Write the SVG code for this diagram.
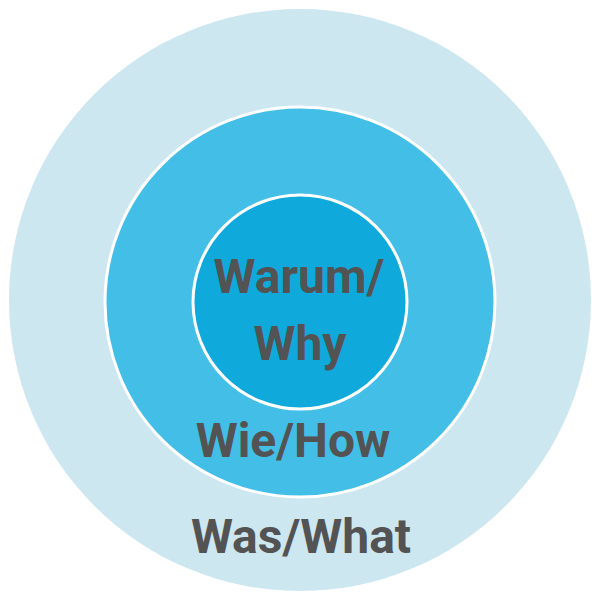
<svg xmlns="http://www.w3.org/2000/svg" width="600" height="600" viewBox="0 0 600 600">
<style>
.lbl{font-family:Roboto,"Liberation Sans",sans-serif;font-weight:bold;font-size:48px;fill:#535353;text-anchor:middle}
.ring{stroke:#ffffff;stroke-width:3}
</style>
<rect width="600" height="600" fill="#ffffff"/>
<g id="outer">
<circle cx="300" cy="300" r="291" fill="#cde7f1"/>
<text class="lbl" x="301" y="553">Was/What</text>
</g>
<g id="middle">
<circle class="ring" cx="300" cy="302" r="195" fill="#43bee7"/>
<text class="lbl" x="293" y="457">Wie/How</text>
</g>
<g id="inner">
<circle class="ring" cx="300" cy="302" r="107" fill="#0fa9db"/>
<text class="lbl" x="299" y="293">Warum/</text>
<text class="lbl" x="300" y="360">Why</text>
</g>
</svg>
